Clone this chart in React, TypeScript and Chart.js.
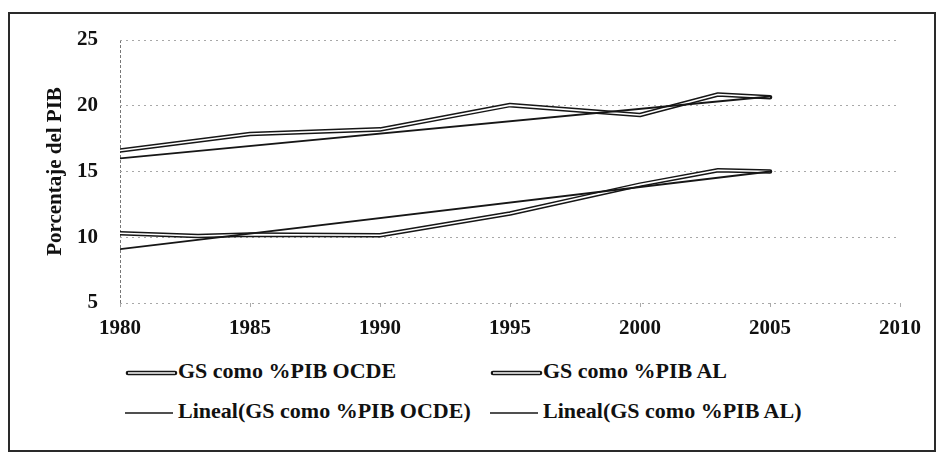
import React, { useEffect, useRef } from "react";
import { Chart, registerables } from "chart.js";

Chart.register(...registerables);

// ---- data ----
const yearsOCDE = [1980, 1985, 1990, 1995, 2000, 2003, 2005];
const gsOCDE = [16.6, 17.85, 18.2, 20.05, 19.3, 20.85, 20.65];

const yearsAL = [1980, 1983, 1985, 1990, 1995, 2000, 2003, 2005];
const gsAL = [10.3, 10.1, 10.2, 10.15, 11.8, 14.0, 15.1, 15.0];

const trendYears = [1980, 2005];
const trendOCDE = [16.0, 20.7];
const trendAL = [9.1, 15.0];

const seriesLabels = [
  "GS como %PIB OCDE",
  "GS como %PIB AL",
  "Lineal(GS como %PIB OCDE)",
  "Lineal(GS como %PIB AL)",
];
const yTitle = "Porcentaje del PIB";

const xMin = 1980;
const xMax = 2010;
const xStep = 5;
const yMin = 5;
const yMax = 25;
const yStep = 5;

const FONT = "'Liberation Serif', 'Times New Roman', serif";
const INK = "#161616";

const pts = (xs: number[], ys: number[]) => xs.map((x, i) => ({ x, y: ys[i] }));

function HollowSymbol() {
  return (
    <svg width={53} height={26} style={{ display: "block", flex: "none" }}>
      <line x1={3} y1={15} x2={50} y2={15} stroke={INK} strokeWidth={4.6} strokeLinecap="round" />
      <line x1={3} y1={15} x2={50} y2={15} stroke="#fff" strokeWidth={1.6} strokeLinecap="butt" />
    </svg>
  );
}

function TrendSymbol() {
  return (
    <svg width={53} height={26} style={{ display: "block", flex: "none" }}>
      <line x1={0} y1={15} x2={48} y2={15} stroke={INK} strokeWidth={1.6} />
    </svg>
  );
}

export default function App() {
  const canvasRef = useRef<HTMLCanvasElement | null>(null);

  useEffect(() => {
    const canvas = canvasRef.current;
    if (!canvas) return;
    const common = { pointRadius: 0, pointHoverRadius: 0, tension: 0, fill: false };
    const chart = new Chart(canvas, {
      type: "line",
      data: {
        datasets: [
          {
            label: seriesLabels[2],
            data: pts(trendYears, trendOCDE),
            borderColor: INK,
            borderWidth: 1.9,
            order: 0,
            ...common,
          },
          {
            label: seriesLabels[3],
            data: pts(trendYears, trendAL),
            borderColor: INK,
            borderWidth: 1.9,
            order: 0,
            ...common,
          },
          {
            label: seriesLabels[0] + " (interior)",
            data: pts(yearsOCDE, gsOCDE),
            borderColor: "#ffffff",
            borderWidth: 1.6,
            borderJoinStyle: "round",
            borderCapStyle: "butt",
            order: 1,
            ...common,
          },
          {
            label: seriesLabels[1] + " (interior)",
            data: pts(yearsAL, gsAL),
            borderColor: "#ffffff",
            borderWidth: 1.6,
            borderJoinStyle: "round",
            borderCapStyle: "butt",
            order: 1,
            ...common,
          },
          {
            label: seriesLabels[0],
            data: pts(yearsOCDE, gsOCDE),
            borderColor: INK,
            borderWidth: 4.6,
            borderJoinStyle: "round",
            borderCapStyle: "round",
            order: 2,
            ...common,
          },
          {
            label: seriesLabels[1],
            data: pts(yearsAL, gsAL),
            borderColor: INK,
            borderWidth: 4.6,
            borderJoinStyle: "round",
            borderCapStyle: "round",
            order: 2,
            ...common,
          },
        ],
      },
      options: {
        animation: false,
        responsive: false,
        maintainAspectRatio: false,
        layout: { padding: { top: 40, right: 42, left: 0, bottom: 0 } },
        plugins: {
          legend: { display: false },
          tooltip: { enabled: false },
          title: { display: false },
        },
        scales: {
          x: {
            type: "linear",
            min: xMin,
            max: xMax,
            ticks: {
              stepSize: xStep,
              callback: (v: any) => String(v),
              font: { family: FONT, size: 21, weight: "bold" },
              color: "#111",
              padding: 9,
              maxRotation: 0,
              autoSkip: false,
            },
            grid: {
              drawOnChartArea: true,
              drawTicks: true,
              tickLength: 4,
              color: (ctx: any) => (ctx.tick && ctx.tick.value === xMin ? "#777" : "rgba(0,0,0,0)"),
              tickColor: "#aaa",
              lineWidth: 1,
            },
            border: { display: false, dash: [3, 2] },
            afterFit: (s: any) => {
              s.height = 42;
            },
          },
          y: {
            min: yMin,
            max: yMax,
            ticks: {
              stepSize: yStep,
              font: { family: FONT, size: 21, weight: "bold" },
              color: "#111",
              padding: 22,
            },
            grid: {
              drawTicks: false,
              color: "#a8a8a8",
              lineWidth: 1,
            },
            border: { display: false, dash: [2, 4] },
            title: {
              display: true,
              text: yTitle,
              font: { family: FONT, size: 21, weight: "bold" },
              color: "#111",
              padding: { top: 43, bottom: 0 },
            },
            afterFit: (s: any) => {
              s.width = 120;
            },
          },
        },
      },
    });
    return () => chart.destroy();
  }, []);

  const textStyle: React.CSSProperties = {
    fontFamily: FONT,
    fontWeight: "bold",
    fontSize: 22,
    lineHeight: "26px",
    color: "#111",
    whiteSpace: "nowrap",
  };

  return (
    <div
      style={{
        position: "fixed",
        left: 0,
        top: 0,
        width: 942,
        height: 454,
        background: "#fff",
        overflow: "hidden",
      }}
    >
      <div
        style={{
          position: "absolute",
          left: 8,
          top: 12,
          width: 928,
          height: 440,
          border: "2px solid #2a2a2a",
          boxSizing: "border-box",
        }}
      />
      <canvas
        ref={canvasRef}
        width={942}
        height={345}
        style={{ position: "absolute", left: 0, top: 0, width: 942, height: 345 }}
      />
      <div
        style={{
          position: "absolute",
          left: 125,
          top: 358,
          display: "grid",
          gridTemplateColumns: "365px auto",
          rowGap: 14,
        }}
      >
        <div style={{ display: "flex", alignItems: "flex-start" }}>
          <HollowSymbol />
          <span style={textStyle}>{seriesLabels[0]}</span>
        </div>
        <div style={{ display: "flex", alignItems: "flex-start" }}>
          <HollowSymbol />
          <span style={textStyle}>{seriesLabels[1]}</span>
        </div>
        <div style={{ display: "flex", alignItems: "flex-start" }}>
          <TrendSymbol />
          <span style={textStyle}>{seriesLabels[2]}</span>
        </div>
        <div style={{ display: "flex", alignItems: "flex-start" }}>
          <TrendSymbol />
          <span style={textStyle}>{seriesLabels[3]}</span>
        </div>
      </div>
    </div>
  );
}
